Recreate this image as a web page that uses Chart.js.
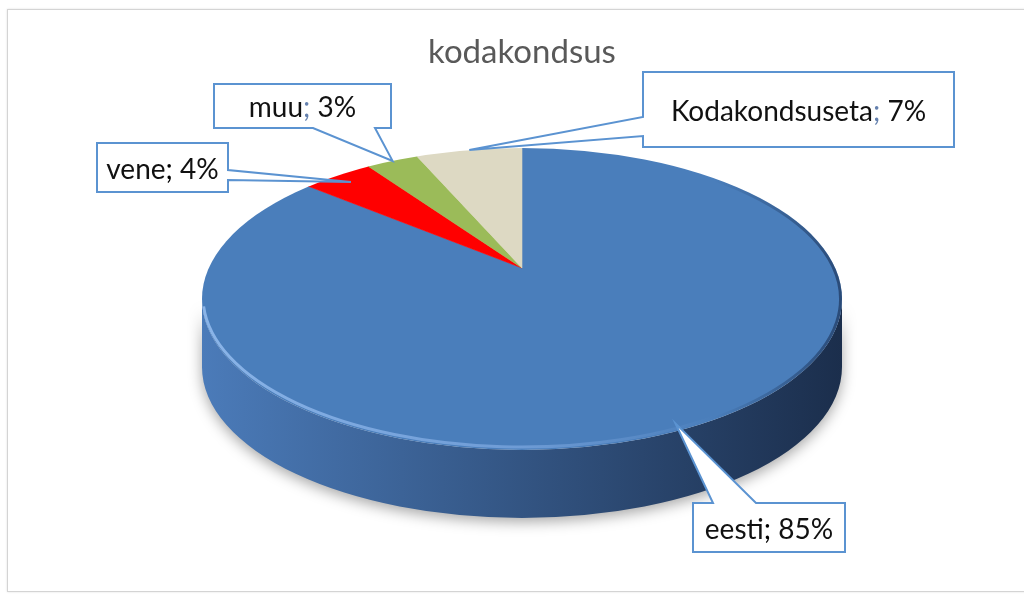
<!DOCTYPE html>
<html>
<head>
<meta charset="utf-8">
<title>kodakondsus</title>
<script src="https://cdn.jsdelivr.net/npm/chart.js@4.4.1/dist/chart.umd.min.js"></script>
<style>
  html, body { margin: 0; padding: 0; background: #fff; }
  #frame { position: absolute; left: 7px; top: 9px; width: 1040px; height: 583px; border: 1px solid #d4d4d4; box-sizing: border-box; box-shadow: 0 0 2px rgba(0,0,0,0.12); }
  #wrap { position: absolute; left: 0; top: 0; width: 1024px; height: 596px; }
</style>
</head>
<body>
<div id="frame"></div>
<div id="wrap"><canvas id="kodakondsus" width="1024" height="596"></canvas></div>
<script>
const chartTitle = 'kodakondsus';
const categories = ['eesti', 'vene', 'muu', 'Kodakondsuseta'];
const shares = [85.4, 4.3, 3.3, 7.0];

const topColors = ['#4A7EBB', '#FF0000', '#9BBB59', '#DDD9C3'];
const sideLight = ['#4B7BB9', '#E00000', '#8AAA4E', '#C9C5B0'];
const sideDark = ['#1B2E4C', '#8A0000', '#5E7A30', '#9C9884'];

// top face ellipse and rim depth; slices fan out from a point set back a little (perspective)
const view = { cx: 522, cy: 299, rx: 320, ry: 151, depth: 68 };
const fan = { x: 522, y: 268, rx: 400, ry: 200 };

// callout boxes (which slice, box, side the pointer leaves from, pointer base, tip position along the ray)
const callouts = [
  { i: 0, x: 693, y: 503, w: 152, h: 49, side: 'top', base: [713, 756], f: 0.96, sep: '#000' },
  { i: 1, x: 97, y: 143, w: 131, h: 49, side: 'right', base: [170, 180], f: 0.93, sep: '#000' },
  { i: 2, x: 214, y: 84, w: 177, h: 44, side: 'bottom', base: [313, 375], f: 1, sep: '#6480AE' },
  { i: 3, x: 643, y: 72, w: 311, h: 75, side: 'left', base: [117, 136], f: 1, sep: '#6480AE' }
];

const labelFont = '28px Lato';

// where a ray from the fan point at angle a meets the rim of the top face
function rimPoint(a, f) {
  const dx = fan.rx * Math.cos(a), dy = fan.ry * Math.sin(a);
  const ox = fan.x - view.cx, oy = fan.y - view.cy;
  const A = (dx / view.rx) ** 2 + (dy / view.ry) ** 2;
  const B = 2 * (ox * dx / view.rx ** 2 + oy * dy / view.ry ** 2);
  const C = (ox / view.rx) ** 2 + (oy / view.ry) ** 2 - 1;
  const t = (-B + Math.sqrt(B * B - 4 * A * C)) / (2 * A);
  return [fan.x + dx * t * f, fan.y + dy * t * f];
}

const pie3d = {
  id: 'pie3d',
  beforeDatasetsDraw(chart) {
    const ctx = chart.ctx;
    const meta = chart.getDatasetMeta(0);
    const a0 = meta.data[0];
    const { cx, cy, rx, ry, depth } = view;

    // side wall, only the front half shows
    meta.data.forEach((arc, i) => {
      const s = arc.startAngle, e = arc.endAngle;
      for (const k of [-2 * Math.PI, 0, 2 * Math.PI]) {
        const lo = Math.max(s, k), hi = Math.min(e, k + Math.PI);
        if (hi <= lo) continue;
        const g = ctx.createLinearGradient(cx - rx, 0, cx + rx, 0);
        g.addColorStop(0, sideLight[i]);
        g.addColorStop(1, sideDark[i]);
        ctx.save();
        ctx.beginPath();
        ctx.ellipse(cx, cy, rx, ry, 0, lo, hi);
        ctx.ellipse(cx, cy + depth, rx, ry, 0, hi, lo, true);
        ctx.closePath();
        ctx.shadowColor = 'rgba(0,0,0,0.35)';
        ctx.shadowBlur = 14;
        ctx.shadowOffsetY = 4;
        ctx.fillStyle = g;
        ctx.fill();
        ctx.restore();
      }
    });

    // lay the round pie over the top face, clipped to it
    ctx.save();
    ctx.beginPath();
    ctx.ellipse(cx, cy, rx, ry, 0, 0, Math.PI * 2);
    ctx.clip();
    ctx.translate(fan.x, fan.y);
    ctx.scale(fan.rx / a0.outerRadius, fan.ry / a0.outerRadius);
    ctx.translate(-a0.x, -a0.y);
  },
  afterDatasetsDraw(chart) {
    const ctx = chart.ctx;
    ctx.restore();
    const { cx, cy, rx, ry } = view;

    // light bevel on the front rim
    ctx.save();
    ctx.beginPath();
    ctx.ellipse(cx, cy, rx, ry, 0, 0, Math.PI * 2);
    ctx.clip();
    const g = ctx.createLinearGradient(cx - rx, 0, cx + rx, 0);
    g.addColorStop(0, 'rgba(150,190,240,0.85)');
    g.addColorStop(0.5, 'rgba(140,180,235,0.55)');
    g.addColorStop(0.8, 'rgba(140,180,235,0)');
    ctx.beginPath();
    ctx.ellipse(cx, cy - 2, rx - 1, ry - 1, 0, 0.02 * Math.PI, 0.98 * Math.PI);
    ctx.strokeStyle = g;
    ctx.lineWidth = 3;
    ctx.stroke();
    // darker back-right edge
    const d = ctx.createLinearGradient(cx + rx * 0.6, 0, cx + rx, 0);
    d.addColorStop(0, 'rgba(20,40,75,0)');
    d.addColorStop(1, 'rgba(20,40,75,0.6)');
    ctx.beginPath();
    ctx.ellipse(cx, cy, rx, ry, 0, -0.45 * Math.PI, 0.3 * Math.PI);
    ctx.strokeStyle = d;
    ctx.lineWidth = 6;
    ctx.stroke();
    ctx.restore();
  }
};

const calloutPlugin = {
  id: 'callout',
  afterDraw(chart) {
    const ctx = chart.ctx;
    const meta = chart.getDatasetMeta(0);
    const total = shares.reduce((s, v) => s + v, 0);
    callouts.forEach(c => {
      const arc = meta.data[c.i];
      const [tx, ty] = rimPoint((arc.startAngle + arc.endAngle) / 2, c.f);
      const { x, y, w, h } = c;
      const [b1, b2] = c.base;

      ctx.save();
      ctx.beginPath();
      if (c.side === 'left') {
        ctx.moveTo(x, y); ctx.lineTo(x + w, y); ctx.lineTo(x + w, y + h); ctx.lineTo(x, y + h);
        ctx.lineTo(x, b2); ctx.lineTo(tx, ty); ctx.lineTo(x, b1);
      } else if (c.side === 'right') {
        ctx.moveTo(x, y); ctx.lineTo(x + w, y); ctx.lineTo(x + w, b1); ctx.lineTo(tx, ty);
        ctx.lineTo(x + w, b2); ctx.lineTo(x + w, y + h); ctx.lineTo(x, y + h);
      } else if (c.side === 'bottom') {
        ctx.moveTo(x, y); ctx.lineTo(x + w, y); ctx.lineTo(x + w, y + h); ctx.lineTo(b2, y + h);
        ctx.lineTo(tx, ty); ctx.lineTo(b1, y + h); ctx.lineTo(x, y + h);
      } else {
        ctx.moveTo(x, y); ctx.lineTo(b1, y); ctx.lineTo(tx, ty); ctx.lineTo(b2, y);
        ctx.lineTo(x + w, y); ctx.lineTo(x + w, y + h); ctx.lineTo(x, y + h);
      }
      ctx.closePath();
      ctx.fillStyle = '#fff';
      ctx.fill();
      ctx.strokeStyle = '#5B93D1';
      ctx.lineWidth = 2;
      ctx.lineJoin = 'miter';
      ctx.stroke();

      const parts = [
        [categories[c.i], '#111'],
        ['; ', c.sep],
        [Math.round(shares[c.i] / total * 100) + '%', '#111']
      ];
      ctx.font = labelFont;
      ctx.textBaseline = 'middle';
      const tw = parts.reduce((s, p) => s + ctx.measureText(p[0]).width, 0);
      let px = x + w / 2 - tw / 2;
      const py = y + h / 2 + 2;
      parts.forEach(([t, col]) => {
        ctx.fillStyle = col;
        ctx.fillText(t, px, py);
        px += ctx.measureText(t).width;
      });
      ctx.restore();
    });
  }
};

new Chart(document.getElementById('kodakondsus'), {
  type: 'pie',
  data: {
    labels: categories,
    datasets: [{
      data: shares,
      backgroundColor: topColors,
      borderColor: topColors,
      borderWidth: 0.5,
      clip: false
    }]
  },
  options: {
    responsive: false,
    animation: false,
    events: [],
    layout: { padding: { left: 20, right: 0, top: 0, bottom: 10 } },
    plugins: {
      legend: { display: false },
      tooltip: { enabled: false },
      title: {
        display: true,
        text: chartTitle,
        color: '#595959',
        font: { family: 'Lato', size: 33, weight: 'normal' },
        padding: { top: 33, bottom: 10 }
      }
    }
  },
  plugins: [pie3d, calloutPlugin]
});
</script>
</body>
</html>
